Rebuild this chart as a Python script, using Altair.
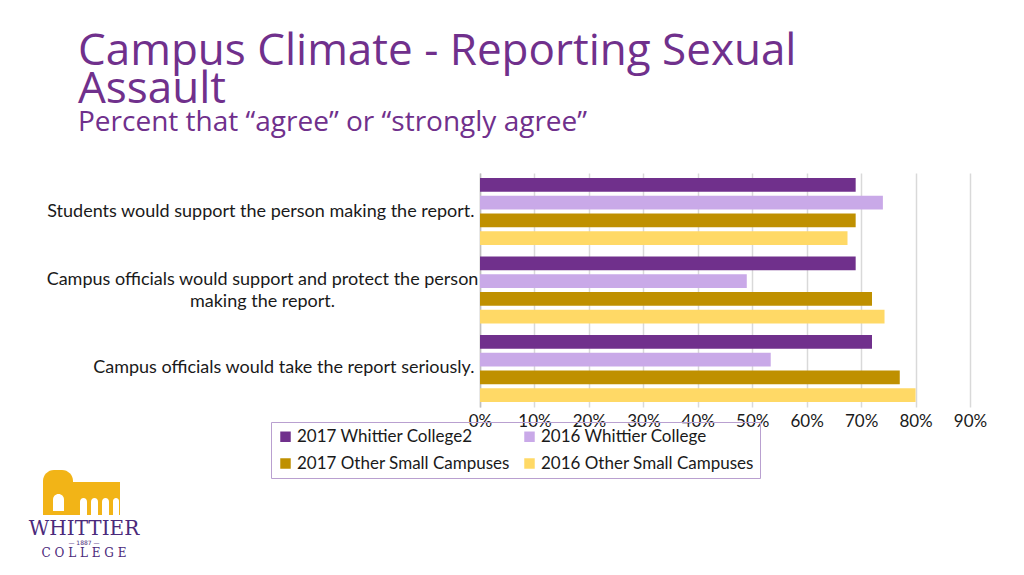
import altair as alt
import pandas as pd

categories = [
    "Students would support the person making the report.",
    "Campus officials would support and protect the person making the report.",
    "Campus officials would take the report seriously.",
]
series = [
    "2017 Whittier College2",
    "2016 Whittier College",
    "2017 Other Small Campuses",
    "2016 Other Small Campuses",
]
colors = ["#70308c", "#c9a9e8", "#bf9000", "#ffd966"]
values = {
    "2017 Whittier College2": [0.69, 0.69, 0.72],
    "2016 Whittier College": [0.74, 0.49, 0.534],
    "2017 Other Small Campuses": [0.69, 0.72, 0.771],
    "2016 Other Small Campuses": [0.675, 0.743, 0.80],
}
x_ticks = [0, 0.1, 0.2, 0.3, 0.4, 0.5, 0.6, 0.7, 0.8, 0.9]

rows = []
for s in series:
    for c, v in zip(categories, values[s]):
        rows.append({"question": c, "series": s, "value": v})
df = pd.DataFrame(rows)

wrapped = categories[1]
label_expr = (
    f"datum.value == '{wrapped}' ? "
    "['Campus officials would support and protect the person', 'making the report.'] : datum.label"
)
test = f"datum.value == '{wrapped}'"

W, H = 490, 234
LABEL_FONT = "Lato"
TITLE_FONT = "Open Sans"
PURPLE = "#70308c"

bars = alt.Chart(df).mark_bar(height={"band": 1}).encode(
    x=alt.X(
        "value:Q",
        scale=alt.Scale(domain=[0, 0.9], nice=False),
        axis=alt.Axis(
            values=x_ticks,
            format=".0%",
            title=None,
            ticks=False,
            domain=False,
            grid=True,
            gridColor="#d9d9d9",
            gridWidth=1.5,
            labelFont=LABEL_FONT,
            labelFontSize=17,
            labelColor="#1a1a1a",
            labelPadding=6,
            labelFlush=False,
            labelOverlap=False,
        ),
    ),
    y=alt.Y(
        "question:N",
        sort=categories,
        scale=alt.Scale(paddingInner=0.146, paddingOuter=0.064),
        axis=alt.Axis(
            title=None,
            ticks=False,
            domain=True,
            domainColor="#bfbfbf",
            domainWidth=1.5,
            grid=False,
            labelFont=LABEL_FONT,
            labelFontSize=18,
            labelColor="#1a1a1a",
            labelLimit=600,
            labelLineHeight=22,
            labelExpr=label_expr,
            labelAlign={"condition": {"test": test, "value": "center"}, "value": "right"},
            labelPadding={"condition": {"test": test, "value": 218}, "value": 6},
            labelOffset={"condition": {"test": test, "value": -10}, "value": 0},
        ),
    ),
    yOffset=alt.YOffset("series:N", sort=series, scale=alt.Scale(paddingInner=0.22)),
    color=alt.Color(
        "series:N",
        sort=series,
        scale=alt.Scale(domain=series, range=colors),
        legend=alt.Legend(
            title=None,
            orient="none",
            direction="horizontal",
            legendX=-209,
            legendY=249,
            columns=2,
            symbolType="square",
            symbolSize=110,
            symbolStrokeWidth=0,
            labelFont=LABEL_FONT,
            labelFontSize=17,
            labelColor="#1a1a1a",
            labelLimit=400,
            rowPadding=9,
            columnPadding=11,
            padding=6,
            strokeColor="#b9a0d0",
            labelOffset=3,
            zindex=0,
        ),
    ),
)

one = pd.DataFrame({"k": [0]})

title = alt.Chart(one).mark_text(
    text=["Campus Climate - Reporting Sexual", "Assault"],
    font=TITLE_FONT,
    fontSize=44,
    lineHeight=38,
    color=PURPLE,
    align="left",
    baseline="alphabetic",
).encode(x=alt.value(-402), y=alt.value(-108))

subtitle = alt.Chart(one).mark_text(
    text="Percent that “agree” or “strongly agree”",
    font=TITLE_FONT,
    fontSize=28,
    color=PURPLE,
    align="left",
    baseline="alphabetic",
).encode(x=alt.value(-402), y=alt.value(-42))

GOLD = "#f2b417"
LOGO_PURPLE = "#4b2a7b"
tower = alt.Chart(one).mark_rect(color=GOLD, cornerRadiusTopLeft=11, cornerRadiusTopRight=11).encode(
    x=alt.value(-437), x2=alt.value(-407), y=alt.value(297), y2=alt.value(342)
)
hall = alt.Chart(one).mark_rect(color=GOLD).encode(
    x=alt.value(-408), x2=alt.value(-360), y=alt.value(309), y2=alt.value(342)
)
tower_window = alt.Chart(one).mark_rect(color="white", cornerRadiusTopLeft=6, cornerRadiusTopRight=6).encode(
    x=alt.value(-427), x2=alt.value(-416), y=alt.value(321), y2=alt.value(338)
)
win1 = alt.Chart(one).mark_rect(color="white", cornerRadiusTopLeft=4, cornerRadiusTopRight=4).encode(
    x=alt.value(-400), x2=alt.value(-393), y=alt.value(325), y2=alt.value(342)
)
win2 = alt.Chart(one).mark_rect(color="white", cornerRadiusTopLeft=4, cornerRadiusTopRight=4).encode(
    x=alt.value(-389), x2=alt.value(-382), y=alt.value(325), y2=alt.value(342)
)
win3 = alt.Chart(one).mark_rect(color="white", cornerRadiusTopLeft=4, cornerRadiusTopRight=4).encode(
    x=alt.value(-378), x2=alt.value(-371), y=alt.value(325), y2=alt.value(342)
)
win4 = alt.Chart(one).mark_rect(color="white", cornerRadiusTopLeft=4, cornerRadiusTopRight=4).encode(
    x=alt.value(-367), x2=alt.value(-361), y=alt.value(325), y2=alt.value(342)
)
logo_name = alt.Chart(one).mark_text(
    text="WHITTIER", font="DejaVu Serif", fontSize=20, color=LOGO_PURPLE,
    align="center", baseline="alphabetic",
).encode(x=alt.value(-396), y=alt.value(362))
logo_year = alt.Chart(one).mark_text(
    text="— 1887 —", font="DejaVu Sans", fontSize=6, color=LOGO_PURPLE,
    align="center", baseline="alphabetic",
).encode(x=alt.value(-396), y=alt.value(372))
logo_college = alt.Chart(one).mark_text(
    text="C O L L E G E", font="DejaVu Serif", fontSize=12, color=LOGO_PURPLE,
    align="center", baseline="alphabetic",
).encode(x=alt.value(-396), y=alt.value(384))

chart = alt.layer(
    bars, title, subtitle, tower, hall, tower_window, win1, win2, win3, win4,
    logo_name, logo_year, logo_college
).properties(
    width=W,
    height=H,
    background="white",
    autosize=alt.AutoSizeParams(type="none"),
    padding={"left": 472, "top": 165, "right": 46, "bottom": 160},
).configure_view(stroke=None, strokeWidth=0)

chart.save("out.html", embed_options={"renderer": "svg", "actions": False})
